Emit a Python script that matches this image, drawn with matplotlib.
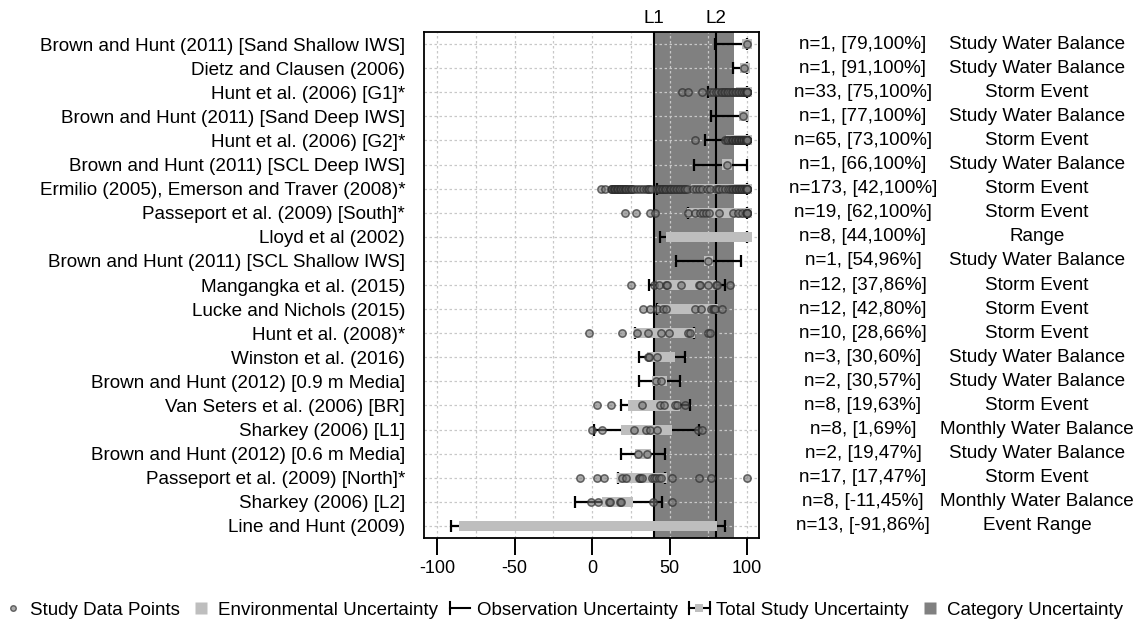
import matplotlib
matplotlib.use("Agg")
import matplotlib.pyplot as plt
from matplotlib.lines import Line2D
from matplotlib.patches import Rectangle
from matplotlib.legend_handler import HandlerBase
from matplotlib.ticker import MultipleLocator

plt.rcParams['font.family'] = ['Liberation Sans', 'DejaVu Sans']
plt.rcParams['axes.unicode_minus'] = False

# ---------------- data ----------------
studies = [
    "Brown and Hunt (2011) [Sand Shallow IWS]",
    "Dietz and Clausen (2006)",
    "Hunt et al. (2006) [G1]*",
    "Brown and Hunt (2011) [Sand Deep IWS]",
    "Hunt et al. (2006) [G2]*",
    "Brown and Hunt (2011) [SCL Deep IWS]",
    "Ermilio (2005), Emerson and Traver (2008)*",
    "Passeport et al. (2009) [South]*",
    "Lloyd et al (2002)",
    "Brown and Hunt (2011) [SCL Shallow IWS]",
    "Mangangka et al. (2015)",
    "Lucke and Nichols (2015)",
    "Hunt et al. (2008)*",
    "Winston et al. (2016)",
    "Brown and Hunt (2012) [0.9 m Media]",
    "Van Seters et al. (2006) [BR]",
    "Sharkey (2006) [L1]",
    "Brown and Hunt (2012) [0.6 m Media]",
    "Passeport et al. (2009) [North]*",
    "Sharkey (2006) [L2]",
    "Line and Hunt (2009)",
]
n_obs = [1, 1, 33, 1, 65, 1, 173, 19, 8, 1, 12, 12, 10, 3, 2, 8, 8, 2, 17, 8, 13]
total_lo = [79, 91, 75, 77, 73, 66, 42, 62, 44, 54, 37, 42, 28, 30, 30, 19, 1, 19, 17, -11, -91]
total_hi = [100, 100, 100, 100, 100, 100, 100, 100, 100, 96, 86, 80, 66, 60, 57, 63, 69, 47, 47, 45, 86]
categories = [
    "Study Water Balance", "Study Water Balance", "Storm Event", "Study Water Balance",
    "Storm Event", "Study Water Balance", "Storm Event", "Storm Event", "Range",
    "Study Water Balance", "Storm Event", "Storm Event", "Storm Event",
    "Study Water Balance", "Study Water Balance", "Storm Event",
    "Monthly Water Balance", "Study Water Balance", "Storm Event",
    "Monthly Water Balance", "Event Range",
]
env_lo = [97, 95.5, 93, 94.5, 86.5, 84, 63.7, 61, 47.5, 72, 42, 41.7, 27.3, 35.3, 38.5, 23.4, 18.5, 27.7, 16.3, 6.6, -85.8]
env_hi = [103, 102, 103, 101, 103, 90, 103, 103, 103, 78.3, 80, 81, 66.5, 53.5, 48.2, 56.8, 51.8, 37.8, 48.2, 26.7, 80.4]

points = [
    [100],
    [98.3],
    [58, 62, 71, 76, 78, 80, 81, 83, 84, 85, 86, 87, 88, 89, 90, 91, 92, 93, 94, 95, 96, 97,
     98, 98, 99, 99, 100, 100, 100, 100, 100, 100, 100],
    [97.6],
    [66.5, 86, 87, 88, 89, 90, 90, 91, 91, 92, 92, 93, 93, 94, 94, 94, 95, 95, 95, 96, 96, 96, 96,
     97, 97, 97, 97, 97, 98, 98, 98, 98, 98, 98, 98, 98, 98, 98, 99, 99, 99, 99, 99, 99, 99, 99,
     99, 99, 99, 99, 100, 100, 100, 100, 100, 100, 100, 100, 100, 100, 100, 100, 100, 100, 100],
    [86.9],
    [6, 8.5, 12, 13, 13, 14, 14, 15, 15, 16, 16, 17, 17, 18, 18, 19, 19, 20, 20, 21, 21, 22, 22,
     23, 24, 25, 25, 26, 27, 29, 31, 33, 35, 36, 37, 38, 42, 43, 43, 44, 45, 45, 46, 47, 47, 48,
     49, 50, 50, 51, 52, 53, 54, 55, 56, 57, 58, 59, 60, 61, 65, 67, 69, 71, 74, 76, 80, 81, 82,
     84, 86, 88, 89, 90, 91, 92, 93, 93, 94, 95, 95, 96, 96, 97, 97, 98, 98, 99, 99, 99, 100,
     100, 100, 100, 100],
    [21.3, 28.3, 37.4, 40.3, 62, 66.5, 69.7, 71.8, 73.5, 75.5, 82, 91, 94, 97, 99, 100, 100, 100, 100],
    [],
    [74.6],
    [25, 40, 43.4, 48, 48.5, 57.4, 69, 69.5, 74.6, 80, 80.5, 89],
    [32.7, 37.4, 42.2, 46, 47.7, 66.5, 70.3, 76.6, 77.9, 78.5, 79.4, 84],
    [-1.7, 19.5, 28.8, 36.3, 44.3, 49.9, 61.7, 63.2, 75, 76],
    [36, 36.5, 41.7],
    [41.3, 44.3],
    [3, 12, 32, 43.9, 46.5, 53.5, 55, 60],
    [0, 6.3, 27, 34.8, 37.4, 41.7, 68.6, 70.8],
    [29.9, 35.7],
    [-7.7, 3.4, 7.7, 19.6, 22.2, 30.3, 31, 32.5, 38.9, 40, 41.1, 43.2, 44.7, 51.8, 69, 76.6, 99.8],
    [-0.5, 4, 11, 11.5, 18, 19, 39, 51.4],
    [],
]

limit_names = ["L1", "L2"]
limit_values = [40, 80]
category_band = [40, 91.4]
x_ticks = [-100, -50, 0, 50, 100]

# ---------------- figure ----------------
W, H = 1139, 621
fig = plt.figure(figsize=(W / 100, H / 100), dpi=100)
ax = fig.add_axes([424 / W, 1 - 538 / H, (759 - 424) / W, (538 - 32) / H])

rows = list(range(1, len(studies) + 1))

ax.axvspan(category_band[0], category_band[1], color='#808080', zorder=0.1, lw=0)
for v in limit_values:
    ax.axvline(v, color='black', lw=1.5, zorder=1.5)

# observation / total uncertainty error bars
for r, lo, hi in zip(rows, total_lo, total_hi):
    ax.errorbar([(lo + hi) / 2], [r], xerr=[[(hi - lo) / 2], [(hi - lo) / 2]], fmt='none',
                ecolor='black', elinewidth=1.6, capsize=4.3, capthick=1.6, zorder=2)

# environmental uncertainty
ax.barh(rows, [h - l for l, h in zip(env_lo, env_hi)], left=env_lo, height=0.42,
        color='#BEBEBE', zorder=3, lw=0)

# data points
pt_face = (0.45, 0.45, 0.45, 0.6)
pt_edge = (0.18, 0.18, 0.18, 0.7)
for r, pts in zip(rows, points):
    if pts:
        ax.scatter(pts, [r] * len(pts), s=28, facecolor=pt_face,
                   edgecolor=pt_edge, linewidth=1.1, zorder=4)

ax.set_xlim(-108.4, 107.7)
ax.set_ylim(len(studies) + 0.5, 0.5)
ax.set_xticks(x_ticks)
ax.set_xticklabels([str(t) for t in x_ticks], fontsize=13)
ax.xaxis.set_minor_locator(MultipleLocator(25))
ax.set_yticks(rows)
ax.set_yticklabels(studies, fontsize=13.6)
ax.tick_params(axis='y', length=0, pad=13.5)
ax.tick_params(axis='x', which='major', length=12.5, width=1.4, pad=3.5, direction='out')
ax.tick_params(axis='x', which='minor', length=0)
ax.set_axisbelow(True)
ax.grid(True, which='both', axis='x', color='#C8C8C8', linestyle=(0, (2, 2)), lw=0.9)
ax.grid(True, which='major', axis='y', color='#C8C8C8', linestyle=(0, (2, 2)), lw=0.9)
for s in ax.spines.values():
    s.set_linewidth(1.3)

ytr = ax.get_yaxis_transform()
for r, n, lo, hi, cat in zip(rows, n_obs, total_lo, total_hi, categories):
    ax.text(1.3104, r, f"n={n}, [{lo},{hi}%]", transform=ytr, ha='center', va='center',
            fontsize=13.6, clip_on=False)
    ax.text(1.8299, r, cat, transform=ytr, ha='center', va='center', fontsize=13.6,
            clip_on=False)

xtr = ax.get_xaxis_transform()
for name, v in zip(limit_names, limit_values):
    ax.text(v, 1.0257, name, transform=xtr, ha='center', va='center', fontsize=13.6,
            clip_on=False)


# ---------------- legend ----------------
class ObsHandler(HandlerBase):
    def create_artists(self, legend, orig_handle, xdescent, ydescent, width, height,
                       fontsize, trans):
        x0 = -xdescent
        yc = -ydescent + height / 2
        hh = height * 0.45
        a = Line2D([x0, x0 + width], [yc, yc], color='black', lw=1.5, transform=trans)
        b = Line2D([x0, x0], [yc - hh, yc + hh], color='black', lw=1.5, transform=trans)
        return [a, b]


class TotalHandler(HandlerBase):
    def create_artists(self, legend, orig_handle, xdescent, ydescent, width, height,
                       fontsize, trans):
        x0 = -xdescent
        yc = -ydescent + height / 2
        hh = height * 0.45
        a = Line2D([x0, x0 + width], [yc, yc], color='black', lw=1.5, transform=trans)
        b = Line2D([x0, x0], [yc - hh, yc + hh], color='black', lw=1.5, transform=trans)
        c = Line2D([x0 + width, x0 + width], [yc - hh, yc + hh], color='black', lw=1.5,
                   transform=trans)
        s = height * 0.6
        d = Rectangle((x0 + width / 2 - s / 2, yc - s / 2), s, s, facecolor='#BEBEBE',
                      edgecolor='none', transform=trans)
        return [a, b, c, d]


class ObsKey:
    pass


class TotalKey:
    pass


h_pts = Line2D([], [], ls='none', marker='o', markersize=4, markerfacecolor=pt_face,
               markeredgecolor=pt_edge)
h_env = Line2D([], [], ls='none', marker='s', markersize=8, markerfacecolor='#BEBEBE',
               markeredgecolor='none')
h_cat = Line2D([], [], ls='none', marker='s', markersize=8, markerfacecolor='#808080',
               markeredgecolor='none')
handles = [h_pts, h_env, ObsKey(), TotalKey(), h_cat]
labels = ["Study Data Points", "Environmental Uncertainty", "Observation Uncertainty",
          "Total Study Uncertainty", "Category Uncertainty"]
fig.legend(handles, labels, loc='center', bbox_to_anchor=(563 / W, 1 - 610 / H), ncol=5,
           frameon=False, fontsize=13.5, handlelength=1.1, handletextpad=0.35,
           columnspacing=0.6, borderaxespad=0, borderpad=0,
           handler_map={ObsKey: ObsHandler(), TotalKey: TotalHandler()})

fig.savefig("out.png", dpi=100)
